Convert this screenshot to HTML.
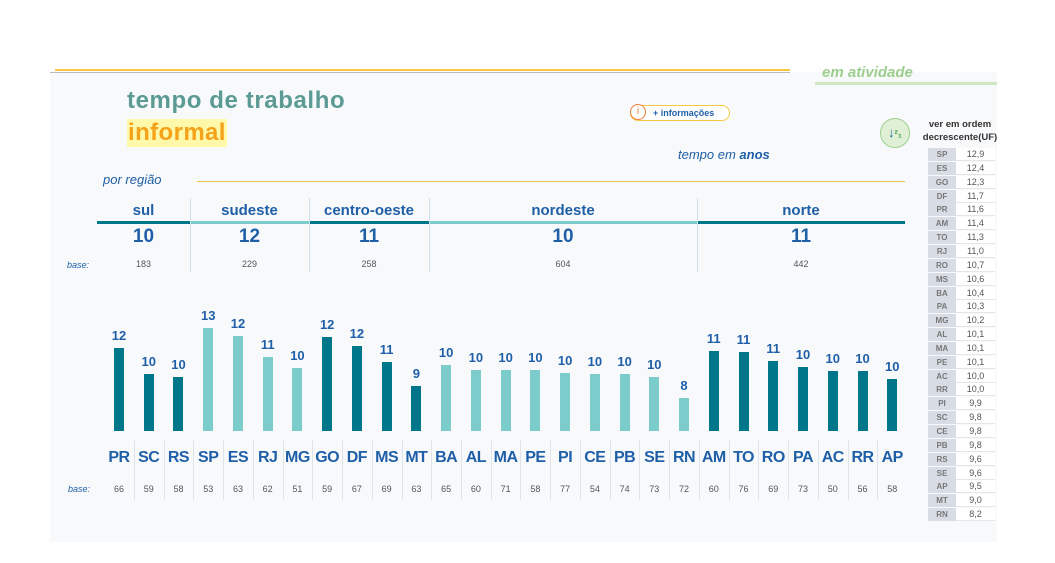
<!DOCTYPE html>
<html><head><meta charset="utf-8"><style>
body{margin:0;width:1055px;height:563px;background:#fff;font-family:"Liberation Sans",sans-serif;position:relative;overflow:hidden}
.a{position:absolute}
</style></head><body>
<div class="a" style="left:50px;top:72px;width:947px;height:470px;background:#f8f9fb"></div>
<div class="a" style="left:55px;top:69px;width:735px;height:2px;background:#f5c842"></div>
<div class="a" style="left:50px;top:72px;width:740px;height:1px;background:#bbb"></div>
<div class="a" style="left:822px;top:64px;color:#9ccf8e;font-size:15px;font-weight:bold;font-style:italic">em atividade</div>
<div class="a" style="left:815px;top:82px;width:182px;height:3px;background:#cfe6c3"></div>
<div class="a" style="left:127px;top:87px;color:#5c9a94;font-size:24px;font-weight:bold;letter-spacing:0.6px">tempo de trabalho</div>
<div class="a" style="left:127px;top:119px;color:#f5a21b;font-size:24px;font-weight:bold;background:#fff8a8;padding:0 1px;letter-spacing:0.4px">informal</div>
<div class="a" style="left:630px;top:105px;width:98px;height:14px;border:1px solid #f5c842;border-radius:8px;font-size:9px;color:#1f5fa8;font-weight:bold;line-height:14px;text-indent:22px;background:#fff">+ informações</div>
<div class="a" style="left:630px;top:104px;width:14px;height:14px;border:1px solid #f07a3a;border-radius:50%;background:#fff;color:#f07a3a;font-size:10px;text-align:center;line-height:14px">i</div>
<div class="a" style="left:678px;top:147px;color:#1f5fa8;font-size:13px;font-style:italic">tempo em <b>anos</b></div>
<div class="a" style="left:103px;top:172px;color:#1f5fa8;font-size:13px;font-style:italic">por região</div>
<div class="a" style="left:197px;top:181px;width:708px;height:1px;background:#f0c040"></div>
<div class="a" style="left:880px;top:118px;width:28px;height:28px;border-radius:50%;background:#dff0d6;border:1px solid #9ccf8e;color:#1f5fa8;font-size:13px;font-weight:bold;text-align:center;line-height:28px">↓<span style="color:#4a9a4a;font-size:10px">²₁</span></div>
<div class="a" style="left:917px;top:118px;width:86px;text-align:center;font-size:9.5px;font-weight:bold;color:#333;line-height:13px">ver em ordem decrescente(UF)</div>
<div id="regions"></div><div id="chart"></div><div id="table"></div>
<script>
const regNames=["sul","sudeste","centro-oeste","nordeste","norte"];
const regVals=[10,12,11,10,11];
const regBase=[183,229,258,604,442];
const regEdges=[97,190,309,429,697,905];
const ufs=["PR","SC","RS","SP","ES","RJ","MG","GO","DF","MS","MT","BA","AL","MA","PE","PI","CE","PB","SE","RN","AM","TO","RO","PA","AC","RR","AP"];
const vals=[11.6,9.8,9.6,12.9,12.4,11.0,10.2,12.3,11.7,10.6,9.0,10.4,10.1,10.1,10.1,9.9,9.8,9.8,9.6,8.2,11.4,11.3,10.7,10.3,10.0,10.0,9.5];
const labels=[12,10,10,13,12,11,10,12,12,11,9,10,10,10,10,10,10,10,10,8,11,11,11,10,10,10,10];
const bases=[66,59,58,53,63,62,51,59,67,69,63,65,60,71,58,77,54,74,73,72,60,76,69,73,50,56,58];
const regOf=[0,0,0,1,1,1,1,2,2,2,2,3,3,3,3,3,3,3,3,3,4,4,4,4,4,4,4];
const DARK="#00768a",LIGHT="#7dcccc";
const col=r=>r%2==0?DARK:LIGHT;
function mk(p,css,txt){const d=document.createElement('div');d.className='a';d.style.cssText=css;if(txt!==undefined)d.textContent=txt;p.appendChild(d);return d;}
const R=document.getElementById('regions');
regNames.forEach((n,i)=>{const x0=regEdges[i],x1=regEdges[i+1],w=x1-x0;
let e=mk(R,`left:${x0}px;top:202px;width:${w}px;text-align:center;font-size:15px;font-weight:bold;color:#1f5fa8`,n);

let u=mk(R,`left:${x0}px;top:221px;width:${w}px;height:3px;background:${col(i)}`);

let v=mk(R,`left:${x0}px;top:226px;width:${w}px;text-align:center;font-size:19px;font-weight:bold;color:#1f5fa8`,regVals[i]);

let b=mk(R,`left:${x0}px;top:259px;width:${w}px;text-align:center;font-size:9px;color:#555`,regBase[i]);

if(i>0){let s=mk(R,`left:${x0}px;top:198px;width:1px;height:74px;background:#cfe0ee`);}
});
let rb=mk(R,`left:67px;top:260px;font-size:9px;font-style:italic;color:#1f5fa8`,"base:");

const C=document.getElementById('chart');
const X0=119,STEP=29.74,BASEY=431,K=14.9,VMIN=6;
const xp=i=>X0+i*STEP, hp=v=>(v-VMIN)*K;
ufs.forEach((u,i)=>{const x=xp(i),h=hp(vals[i]);
let bar=mk(C,`left:${x-5}px;top:${BASEY-h}px;width:10px;height:${h}px;background:${col(regOf[i])}`);

let l=mk(C,`left:${x-15}px;top:${BASEY-h-20}px;width:30px;text-align:center;font-size:13px;font-weight:bold;color:#1f5fa8`,labels[i]);

let t=mk(C,`left:${x-16}px;top:449px;width:32px;text-align:center;font-size:16px;font-weight:bold;color:#1f5fa8;letter-spacing:-0.5px`,u);

let b=mk(C,`left:${x-15}px;top:484px;width:30px;text-align:center;font-size:9px;color:#555`,bases[i]);

if(i>0){let s=mk(C,`left:${x-STEP/2}px;top:440px;width:1px;height:60px;background:#e0e3e8`);}
});
let cb=mk(C,`left:68px;top:484px;font-size:9px;font-style:italic;color:#1f5fa8`,"base:");

const T=document.getElementById('table');
const idx=ufs.map((u,i)=>i).sort((a,b)=>vals[b]-vals[a]);
idx.forEach((i,r)=>{const y=148+r*13.85;
let k=mk(T,`left:928px;top:${y}px;width:28px;height:13px;background:#d8dde5;font-size:8px;font-weight:bold;color:#777;text-align:center;line-height:13px`,ufs[i]);

let v=mk(T,`left:956px;top:${y}px;width:39px;height:12px;background:#fff;border-bottom:1px solid #e3e6ea;font-size:9px;color:#555;text-align:center;line-height:13px`,vals[i].toFixed(1).replace('.',','));

});
</script>
</body></html>
